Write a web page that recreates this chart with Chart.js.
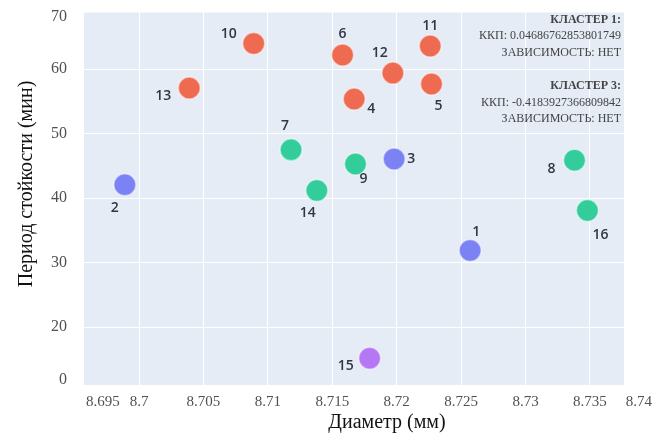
<!DOCTYPE html>
<html><head><meta charset="utf-8">
<script src="https://cdn.jsdelivr.net/npm/chart.js@4.4.0/dist/chart.umd.min.js"></script>
<style>html,body{margin:0;padding:0;background:#fff}</style>
</head><body>
<canvas id="c" width="664" height="442" style="display:block;width:664px;height:442px"></canvas>
<script>
// ---- data ----
const pointIds  = [1, 2, 3, 4, 5, 6, 7, 8, 9, 10, 11, 12, 13, 14, 15, 16];
const diameters = [8.7257, 8.6989, 8.7198, 8.7167, 8.7227, 8.7158, 8.7118, 8.7338, 8.7168, 8.7089, 8.7226, 8.7197, 8.7039, 8.7138, 8.7179, 8.7348];
const periods   = [31.9, 42.1, 46.1, 55.4, 57.7, 62.2, 47.5, 45.9, 45.3, 64.0, 63.6, 59.4, 57.1, 41.2, 15.2, 38.1];
const clusters  = ['B', 'B', 'B', 'O', 'O', 'O', 'G', 'G', 'G', 'O', 'O', 'O', 'O', 'G', 'P', 'G'];
const clusterOrder = ['O', 'B', 'G', 'P'];

const xTickLabels = ['8.695', '8.7', '8.705', '8.71', '8.715', '8.72', '8.725', '8.73', '8.735', '8.74'];
const xTickValues = [8.6972, 8.7, 8.705, 8.71, 8.715, 8.72, 8.725, 8.73, 8.735, 8.7388];
const yTickLabels = ['0', '20', '30', '40', '50', '60', '70'];
const yTickValues = [11.8, 20, 30, 40, 50, 60, 68.2];

const annotationLines = [
  ['КЛАСТЕР 1:', true],
  ['ККП: 0.04686762853801749', false],
  ['ЗАВИСИМОСТЬ: НЕТ', false],
  ['', false],
  ['КЛАСТЕР 3:', true],
  ['ККП: -0.4183927366809842', false],
  ['ЗАВИСИМОСТЬ: НЕТ', false]
];
const xTitle = 'Диаметр (мм)';
const yTitle = 'Период стойкости (мин)';

// ---- styles ----
const clusterColors = { O: '#EE6A50', B: '#7B83F4', G: '#33CD9C', P: '#B677F5' };
const labelDx = [6, -10, 17, 17, 7, 0, -6, -23, 8, -25, 0, -13, -26, -9, -24, 13];
const labelDy = [-18, 23, 0, 10, 22, -21, -24, 9, 15, -9, -20, -20, 8, 23, 8, 25];

const datasets = clusterOrder.map(c => ({
  label: c,
  data: pointIds.map((id, i) => ({ x: diameters[i], y: periods[i], c: clusters[i] })).filter(p => p.c === c),
  backgroundColor: clusterColors[c],
  borderColor: 'rgba(255,255,255,0.5)',
  borderWidth: 1.5,
  pointRadius: 11,
  pointHoverRadius: 11
}));

const textPlugin = {
  id: 'texts',
  afterDatasetsDraw(chart) {
    const ctx = chart.ctx, xs = chart.scales.x, ys = chart.scales.y, area = chart.chartArea;
    ctx.save();
    ctx.font = '600 14px "Open Sans"';
    ctx.fillStyle = '#2f3742';
    ctx.textAlign = 'center';
    ctx.textBaseline = 'middle';
    pointIds.forEach((id, i) => {
      const px = xs.getPixelForValue(diameters[i]);
      const py = ys.getPixelForValue(periods[i]);
      ctx.fillText(String(id), px + labelDx[i], py + labelDy[i]);
    });
    // annotation
    ctx.textAlign = 'right';
    ctx.fillStyle = '#444';
    annotationLines.forEach((l, k) => {
      if (!l[0]) return;
      ctx.font = (l[1] ? 'bold ' : '') + '12px "Liberation Serif"';
      ctx.fillText(l[0], area.right - 3, area.top + 7 + k * 16.6);
    });
    ctx.restore();
  },
  afterDraw(chart) {
    const ctx = chart.ctx;
    ctx.save();
    ctx.fillStyle = '#111';
    ctx.font = '20px "Liberation Serif"';
    ctx.textAlign = 'center';
    ctx.textBaseline = 'middle';
    ctx.fillText(xTitle, 387, 423);
    ctx.translate(27, 184);
    ctx.rotate(-Math.PI / 2);
    ctx.fillText(yTitle, 0, 0);
    ctx.restore();
  }
};

const bgPlugin = {
  id: 'bg',
  beforeDraw(chart) {
    const { ctx, chartArea: a } = chart;
    ctx.save();
    ctx.fillStyle = '#E5ECF6';
    ctx.fillRect(a.left, a.top, a.right - a.left, a.bottom - a.top);
    ctx.restore();
  }
};

const gridColor = n => c => (c.index === 0 || c.index === n - 1) ? 'rgba(0,0,0,0)' : '#ffffff';

new Chart(document.getElementById('c'), {
  type: 'scatter',
  data: { datasets },
  options: {
    responsive: false,
    animation: false,
    devicePixelRatio: 1,
    layout: { padding: { left: 0, top: 11, right: 40, bottom: 0 } },
    plugins: { legend: { display: false }, tooltip: { enabled: false } },
    scales: {
      x: {
        type: 'linear', min: 8.69573, max: 8.73764,
        afterFit(s) { s.height = 57; s.paddingLeft = 0; s.paddingRight = 0; },
        afterBuildTicks(s) { s.ticks = xTickValues.map(v => ({ value: v })); },
        ticks: { autoSkip: false, maxRotation: 0, padding: 8, color: '#505050',
          font: { family: 'Liberation Serif', size: 15 },
          callback: (v, i) => xTickLabels[i] },
        grid: { color: gridColor(xTickValues.length), drawTicks: false, lineWidth: 1 },
        border: { display: false }
      },
      y: {
        type: 'linear', min: 11.04, max: 68.8,
        afterFit(s) { s.width = 84; s.paddingTop = 0; s.paddingBottom = 0; },
        afterBuildTicks(s) { s.ticks = yTickValues.map(v => ({ value: v })); },
        ticks: { autoSkip: false, padding: 17, color: '#505050',
          font: { family: 'Liberation Serif', size: 16 },
          callback: (v, i) => yTickLabels[i] },
        grid: { color: gridColor(yTickValues.length), drawTicks: false, lineWidth: 1 },
        border: { display: false }
      }
    }
  },
  plugins: [bgPlugin, textPlugin]
});
</script>
</body></html>
